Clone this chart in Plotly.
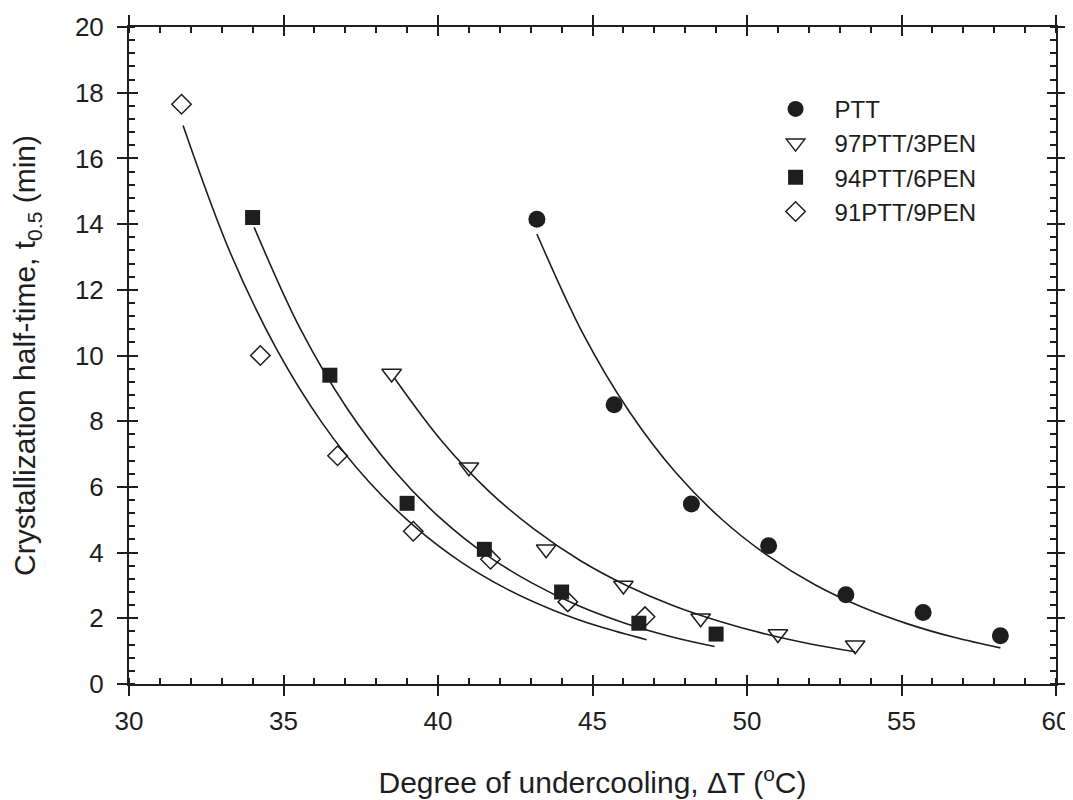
import plotly.graph_objects as go

# ---- measured data points ----
ptt_x = [43.2, 45.7, 48.2, 50.7, 53.2, 55.7, 58.2]
ptt_y = [14.15, 8.5, 5.48, 4.21, 2.72, 2.18, 1.47]

p97_x = [38.5, 41.0, 43.5, 46.0, 48.5, 51.0, 53.5]
p97_y = [9.45, 6.6, 4.1, 3.0, 2.0, 1.52, 1.18]

p94_x = [34.0, 36.5, 39.0, 41.5, 44.0, 46.5, 49.0]
p94_y = [14.2, 9.4, 5.5, 4.1, 2.8, 1.85, 1.52]

p91_x = [31.7, 34.25, 36.75, 39.2, 41.7, 44.2, 46.7]
p91_y = [17.65, 10.0, 6.95, 4.65, 3.8, 2.5, 2.05]

# ---- fitted curves ----
ptt_fit_x = [43.2, 44.7, 46.2, 47.7, 49.2, 50.7, 52.2, 53.7, 55.2, 56.7, 58.2]
ptt_fit_y = [13.7, 10.65, 8.28, 6.43, 5.0, 3.89, 3.02, 2.35, 1.83, 1.42, 1.1]

p97_fit_x = [38.6, 40.1, 41.6, 43.1, 44.6, 46.1, 47.6, 49.1, 50.6, 52.1, 53.5]
p97_fit_y = [9.3, 7.42, 5.91, 4.72, 3.76, 3.0, 2.39, 1.91, 1.52, 1.21, 0.98]

p94_fit_x = [34.05, 35.55, 37.05, 38.55, 40.05, 41.55, 43.05, 44.55, 46.05, 47.55, 48.95]
p94_fit_y = [13.9, 10.8, 8.4, 6.53, 5.07, 3.94, 3.07, 2.38, 1.85, 1.44, 1.14]

p91_fit_x = [31.75, 33.25, 34.75, 36.25, 37.75, 39.25, 40.75, 42.25, 43.75, 45.25, 46.75]
p91_fit_y = [17.0, 13.19, 10.24, 7.95, 6.17, 4.79, 3.71, 2.88, 2.24, 1.74, 1.35]

series_names = ["PTT", "97PTT/3PEN", "94PTT/6PEN", "91PTT/9PEN"]

INK = "#1e1e1e"
FONT = "Liberation Sans, Arial, sans-serif"

fig = go.Figure()

fits = [(ptt_fit_x, ptt_fit_y), (p97_fit_x, p97_fit_y), (p94_fit_x, p94_fit_y), (p91_fit_x, p91_fit_y)]
for fx, fy in fits:
    fig.add_trace(go.Scatter(x=fx, y=fy, mode="lines", line=dict(color=INK, width=1.6, shape="spline"),
                             showlegend=False, hoverinfo="skip"))

marker_styles = [
    dict(symbol="circle", size=17, color=INK, line=dict(width=0)),
    dict(symbol="triangle-down-open", size=17, color=INK, line=dict(width=1.5, color=INK)),
    dict(symbol="square", size=15, color=INK, line=dict(width=0)),
    dict(symbol="diamond-open", size=15, color=INK, line=dict(width=1.5, color=INK)),
]
data = [(ptt_x, ptt_y), (p97_x, p97_y), (p94_x, p94_y), (p91_x, p91_y)]
for (dx, dy), name, ms in zip(data, series_names, marker_styles):
    fig.add_trace(go.Scatter(x=dx, y=dy, mode="markers", name=name, marker=ms))

# invisible trace to activate overlay axes (for crossing major ticks)
fig.add_trace(go.Scatter(x=[30], y=[0], xaxis="x2", yaxis="y2", mode="markers",
                         marker=dict(opacity=0), showlegend=False, hoverinfo="skip"))

tickfont = dict(family=FONT, size=26, color=INK)
titlefont = dict(family=FONT, size=30, color=INK)

fig.update_layout(
    width=1073, height=800,
    margin=dict(l=121, r=25, t=19, b=124, autoexpand=False),
    paper_bgcolor="white", plot_bgcolor="white",
    font=dict(family=FONT, color=INK),
    xaxis=dict(
        range=[30, 60], tick0=30, dtick=5, ticks="outside", ticklen=10, tickwidth=1.6, tickcolor=INK,
        minor=dict(ticks="inside", ticklen=6, dtick=1, tickwidth=1.6, tickcolor=INK),
        showline=True, linewidth=2, linecolor=INK, mirror="ticks", automargin=False,
        showgrid=False, zeroline=False, tickfont=tickfont, ticklabelstandoff=3,
        title=dict(text="Degree of undercooling, ΔT (<sup>o</sup>C)", font=titlefont, standoff=37),
    ),
    yaxis=dict(
        range=[0, 20], tick0=0, dtick=2, ticks="outside", ticklen=10, tickwidth=1.6, tickcolor=INK,
        minor=dict(ticks="inside", ticklen=6, dtick=0.4, tickwidth=1.6, tickcolor=INK),
        showline=True, linewidth=2, linecolor=INK, mirror="ticks", automargin=False,
        showgrid=False, zeroline=False, tickfont=tickfont, ticklabelstandoff=8,
        title=dict(text="Crystallization half-time, t<sub>0.5</sub> (min)", font=titlefont, standoff=30),
    ),
    xaxis2=dict(
        overlaying="x", anchor="y2", side="bottom", range=[30, 60], tick0=30, dtick=5,
        ticks="inside", ticklen=9, tickwidth=1.6, tickcolor=INK, mirror="ticks", automargin=False,
        showticklabels=False, showline=False, showgrid=False, zeroline=False,
    ),
    yaxis2=dict(
        overlaying="y", anchor="x2", side="left", range=[0, 20], tick0=0, dtick=2,
        ticks="inside", ticklen=9, tickwidth=1.6, tickcolor=INK, mirror="ticks", automargin=False,
        showticklabels=False, showline=False, showgrid=False, zeroline=False,
    ),
    legend=dict(
        x=0.677, y=0.909, xanchor="left", yanchor="top",
        font=dict(family=FONT, size=24, color=INK), bgcolor="rgba(0,0,0,0)",
        itemwidth=68, tracegroupgap=0,
    ),
    showlegend=True,
)

fig.write_html("out.html")
